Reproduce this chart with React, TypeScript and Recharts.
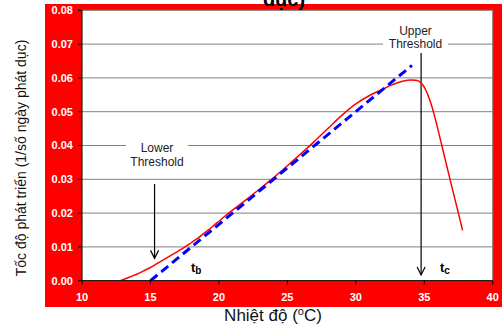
import React from 'react';
import {
  LineChart,
  Line,
  XAxis,
  YAxis,
  CartesianGrid,
  ReferenceLine,
  ReferenceDot,
} from 'recharts';

// Observed development rate (red curve)
const redTemps = [12.8, 13.5, 14, 14.5, 15, 15.5, 16, 16.5, 17, 17.5, 18, 18.5, 19, 19.5, 20, 20.5, 21, 22, 23, 24, 25, 26, 27, 28, 29, 30, 31, 32, 32.5, 33, 33.5, 34, 34.4, 34.8, 35.1, 35.4, 35.7, 36.3, 36.9, 37.5, 37.8];
const redRates = [0, 0.0011, 0.0019, 0.0029, 0.0039, 0.0051, 0.0063, 0.0075, 0.0087, 0.0099, 0.0113, 0.0127, 0.0143, 0.0159, 0.0176, 0.0193, 0.0209, 0.024, 0.0272, 0.0305, 0.034, 0.0376, 0.0413, 0.0452, 0.049, 0.0523, 0.0548, 0.0567, 0.0577, 0.0585, 0.0591, 0.0594, 0.0593, 0.0584, 0.0565, 0.0535, 0.0495, 0.0397, 0.0297, 0.0199, 0.0149];

// Linear model (blue dashed)
const blueTemps = [15, 34.1];
const blueRates = [0, 0.0637];

const xTicks = [10, 15, 20, 25, 30, 35, 40];
const yTicks = [0, 0.01, 0.02, 0.03, 0.04, 0.05, 0.06, 0.07, 0.08];

const redData = redTemps.map((x, i) => ({ x, y: redRates[i] }));
const blueData = blueTemps.map((x, i) => ({ x, y: blueRates[i] }));

const FONT = 'Arial, "Liberation Sans", Helvetica, sans-serif';

const arrowShape = (p: any) => {
  const { x1, y1, x2, y2 } = p;
  return (
    <g>
      <line x1={x1} y1={y1} x2={x2} y2={y2} stroke="#000" strokeWidth={1.2} />
      <polyline
        points={`${x2 - 4},${y2 - 8} ${x2},${y2} ${x2 + 4},${y2 - 8}`}
        fill="none"
        stroke="#000"
        strokeWidth={1.2}
      />
    </g>
  );
};

const lowerLabel = (p: any) => {
  const { cx, cy } = p;
  return (
    <g>
      <rect x={cx - 31} y={cy - 5} width={62} height={26} fill="#fff" />
      <text x={cx} y={cy + 6.5} textAnchor="middle" fontFamily={FONT} fontSize={12} fill="#222">Lower</text>
      <text x={cx} y={cy + 20} textAnchor="middle" fontFamily={FONT} fontSize={12} fill="#222">Threshold</text>
    </g>
  );
};

const upperLabel = (p: any) => {
  const { cx, cy } = p;
  return (
    <g>
      <rect x={cx - 32.5} y={cy - 20} width={65} height={27} fill="#fff" />
      <text x={cx} y={cy - 9} textAnchor="middle" fontFamily={FONT} fontSize={12} fill="#222">Upper</text>
      <text x={cx} y={cy + 4.3} textAnchor="middle" fontFamily={FONT} fontSize={12} fill="#222">Threshold</text>
    </g>
  );
};

const subLabel = (sub: string) => (p: any) => {
  const { cx, cy } = p;
  return (
    <text x={cx} y={cy} fontFamily={FONT} fontWeight="bold" fontSize={13} fill="#000">
      t<tspan fontSize={10} dy={2.5}>{sub}</tspan>
    </text>
  );
};

export default function App() {
  return (
    <div style={{ position: 'absolute', left: 0, top: 0, width: 502, height: 326, background: '#fff', overflow: 'hidden' }}>
      <div style={{ position: 'absolute', left: 45, top: 4, width: 457, height: 303, background: '#ff0000' }} />
      <div style={{ position: 'absolute', left: 0, top: 0 }}>
        <LineChart width={502} height={326} margin={{ top: 10.3, right: 9.3, bottom: 15.3, left: 45 }}>
          <CartesianGrid vertical={false} stroke="#808080" fill="#ffffff" fillOpacity={1} />
          <XAxis
            type="number"
            dataKey="x"
            domain={[10, 40]}
            ticks={xTicks}
            allowDataOverflow
            height={30}
            axisLine={{ stroke: '#000', strokeWidth: 1 }}
            tickLine={{ stroke: '#000' }}
            tickSize={4}
            tickMargin={8}
            tick={{ fill: '#fff', fontSize: 11, fontWeight: 'bold', fontFamily: FONT }}
          />
          <YAxis
            type="number"
            domain={[0, 0.08]}
            ticks={yTicks}
            allowDataOverflow
            width={37}
            axisLine={{ stroke: '#000', strokeWidth: 1 }}
            tickLine={{ stroke: '#000' }}
            tickSize={4}
            tickMargin={5}
            tickFormatter={(v: number) => v.toFixed(2)}
            tick={{ fill: '#fff', fontSize: 11, fontWeight: 'bold', fontFamily: FONT }}
          />
          <ReferenceLine x={40} stroke="#808080" />
          <ReferenceDot x={15.48} y={0.04} r={0} shape={lowerLabel} />
          <ReferenceDot x={34.36} y={0.07} r={0} shape={upperLabel} />
          <ReferenceLine segment={[{ x: 15.3, y: 0.0286 }, { x: 15.3, y: 0.0066 }]} shape={arrowShape} />
          <ReferenceLine segment={[{ x: 34.77, y: 0.0674 }, { x: 34.77, y: 0.0017 }]} shape={arrowShape} />
          <ReferenceDot x={17.96} y={0.0026} r={0} shape={subLabel('b')} />
          <ReferenceDot x={36.15} y={0.0026} r={0} shape={subLabel('c')} />
          <Line
            data={redData}
            dataKey="y"
            type="monotone"
            stroke="#ff0000"
            strokeWidth={1.5}
            dot={false}
            activeDot={false}
            isAnimationActive={false}
          />
          <Line
            data={blueData}
            dataKey="y"
            type="linear"
            stroke="#0000ff"
            strokeWidth={3}
            strokeDasharray="9 5"
            dot={false}
            activeDot={false}
            isAnimationActive={false}
          />
        </LineChart>
      </div>
      <svg width={502} height={326} style={{ position: 'absolute', left: 0, top: 0, pointerEvents: 'none' }}>
        <text x={284} y={6} textAnchor="middle" fontFamily={FONT} fontWeight="bold" fontSize={20} fill="#000">dục)</text>
        <text
          transform="translate(26,158) rotate(-90)"
          textAnchor="middle"
          fontFamily={FONT}
          fontSize={14}
          fill="#111"
        >
          Tốc độ phát triển (1/số ngày phát dục)
        </text>
        <text x={273} y={321} textAnchor="middle" fontFamily={FONT} fontSize={17} fill="#111">
          Nhiệt độ (<tspan fontSize={11} dy={-6}>o</tspan><tspan dy={6}>C)</tspan>
        </text>
      </svg>
    </div>
  );
}
